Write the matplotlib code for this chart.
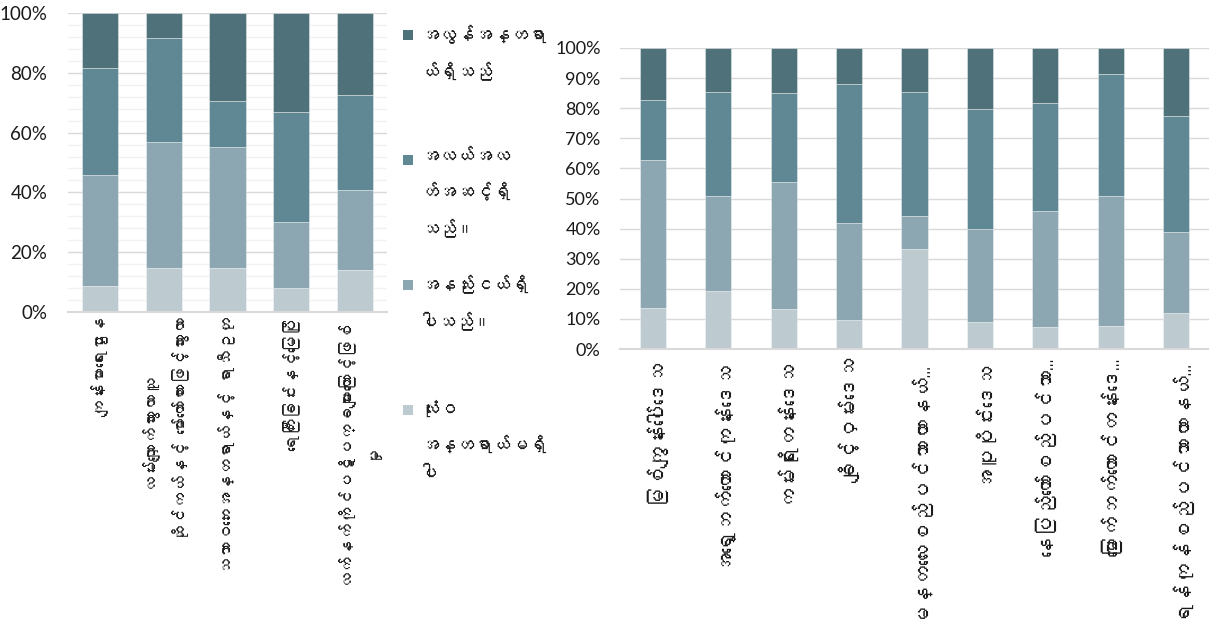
import numpy as np
import matplotlib
matplotlib.use("Agg")
import matplotlib.pyplot as plt
from matplotlib.patches import Rectangle
from matplotlib.ticker import MultipleLocator, FuncFormatter

# ---------------- data ----------------
series_names = ["လုံးဝ\nအန္တရာယ်မရှိ\nပါ",
                "အနည်းငယ်ရှိ\nပါသည်။",
                "အလယ်အလ\nတ်အဆင့်ရှိ\nသည်။",
                "အလွန်အန္တရာ\nယ်ရှိသည်"]

left_categories = ["ကျန်းမာရေးဌာန",
                   "လမ်းလျှောက်သွားလာသူ\nဆိုင်ကယ်နှင့် မော်တော်ကားဖြင့်သွားလာ",
                   "သဘာဝဘေးအန္တရာယ်နှင့် ရာသီဥတု",
                   "ရေကြီးခြင်းနှင့်မြေပြို",
                   "လက်နက်ကိုင်ပဋိပက္ခများကြောင့်ဖြစ်\nမှု"]
left_none = [8.6, 14.8, 14.6, 7.9, 14.2]
left_low = [37.1, 42.2, 40.7, 22.3, 26.7]
left_mid = [36.0, 34.5, 15.4, 36.7, 31.7]
left_high = [18.3, 8.5, 29.3, 33.1, 27.4]

right_categories = ["မြစ်ကျွန်းပေါ်ဒေသ",
                    "အရှေ့ဘက်တောင်ကုန်းဒေသ",
                    "ကမ်းရိုးတန်းဒေသ",
                    "ချိုင့်ဝှမ်းဒေသ",
                    "မန္တလေးစည်ပင်သာယာနယ်…",
                    "အပူပိုင်းဒေသ",
                    "နေပြည်တော်စည်ပင်သာ…",
                    "မြောက်ဘက်တောင်တန်းဒေ…",
                    "ရန်ကုန်စည်ပင်သာယာနယ်…"]
right_none = [13.7, 19.4, 13.4, 9.8, 33.1, 8.9, 7.4, 7.8, 12.0]
right_low = [49.0, 31.5, 42.1, 32.1, 11.2, 31.0, 38.5, 43.1, 26.8]
right_mid = [20.1, 34.6, 29.6, 46.2, 41.2, 39.9, 35.9, 40.6, 38.6]
right_high = [17.2, 14.5, 14.9, 11.9, 14.5, 20.2, 18.2, 8.5, 22.6]

left_yticks = [0, 20, 40, 60, 80, 100]
right_yticks = [0, 10, 20, 30, 40, 50, 60, 70, 80, 90, 100]

colors = ["#BDCAD0", "#8CA7B1", "#5F8794", "#4F717A"]


# ---------------- fonts ----------------
def find_myanmar_font():
    try:
        from matplotlib import font_manager as fm
        from matplotlib.ft2font import FT2Font
        for path in sorted(fm.findSystemFonts()):
            try:
                f = FT2Font(path)
                if 0x1000 in f.get_charmap():
                    fm.fontManager.addfont(path)
                    return fm.FontProperties(fname=path).get_name()
            except Exception:
                continue
    except Exception:
        pass
    return None


mm = find_myanmar_font()
MM = [mm, "DejaVu Sans"] if mm else ["DejaVu Sans"]
NUM = ["Liberation Sans Narrow", "Lato", "DejaVu Sans"]

W, H = 1209, 626
fig = plt.figure(figsize=(W / 100, H / 100), dpi=100)
fig.patch.set_facecolor("white")


def px_axes(x0, y0, x1, y1):
    return fig.add_axes([x0 / W, 1 - y1 / H, (x1 - x0) / W, (y1 - y0) / H])


def stacked(ax, cats, layers, width):
    x = np.arange(len(cats))
    bottom = np.zeros(len(cats))
    for vals, c in zip(layers, colors):
        vals = np.asarray(vals, dtype=float)
        ax.bar(x, vals, width, bottom=bottom, color=c,
               edgecolor=(1, 1, 1, 0.45), linewidth=0.6, zorder=3)
        bottom += vals
    ax.set_xlim(-0.5, len(cats) - 0.5)
    ax.set_ylim(0, 100)
    for s in ["top", "right", "left"]:
        ax.spines[s].set_visible(False)
    ax.spines["bottom"].set_color("#D9D9D9")
    ax.spines["bottom"].set_linewidth(1.5)
    ax.spines["bottom"].set_zorder(4)
    ax.set_xticks(x)
    ax.yaxis.set_major_formatter(FuncFormatter(lambda v, p: f"{v:.0f}%"))
    return x


# ---------------- left chart ----------------
ax1 = px_axes(68, 13, 387, 312)
stacked(ax1, left_categories, [left_none, left_low, left_mid, left_high], 0.57)
ax1.set_yticks(left_yticks)
ax1.yaxis.set_minor_locator(MultipleLocator(4))
ax1.grid(axis="y", which="major", color="#D9D9D9", linewidth=1.0, zorder=0)
ax1.grid(axis="y", which="minor", color="#F2F2F2", linewidth=1.0, zorder=0)
ax1.tick_params(axis="both", which="both", length=0)
ax1.tick_params(axis="y", pad=15)
ax1.tick_params(axis="x", pad=4)
for t in ax1.get_yticklabels():
    t.set_fontfamily(NUM)
    t.set_fontsize(13.5)
    t.set_color("#1a1a1a")
ax1.set_xticklabels(left_categories, rotation=90, va="top", ha="center",
                    multialignment="center", fontsize=12,
                    family=MM, linespacing=2.1, color="#1a1a1a")

# legend (manual, placed like the reference)
legend_rows = [(3, 35), (2, 160), (1, 285), (0, 410)]
for idx, yc in legend_rows:
    fig.add_artist(Rectangle((403 / W, 1 - (yc + 5) / H), 10 / W, 10 / H,
                             transform=fig.transFigure, facecolor=colors[idx],
                             edgecolor="none"))
    fig.text(420 / W, 1 - (yc - 10) / H, series_names[idx], va="top", ha="left",
             fontsize=13, family=MM, linespacing=2.1, color="#1a1a1a")

# ---------------- right chart ----------------
ax2 = px_axes(620, 48, 1209, 349)
stacked(ax2, right_categories, [right_none, right_low, right_mid, right_high], 0.4)
ax2.set_yticks(right_yticks)
ax2.grid(axis="y", which="major", color="#D9D9D9", linewidth=1.0, zorder=0)
ax2.tick_params(axis="both", which="both", length=0)
ax2.tick_params(axis="y", pad=14)
ax2.tick_params(axis="x", pad=6)
for t in ax2.get_yticklabels():
    t.set_fontfamily(NUM)
    t.set_fontsize(13)
    t.set_color("#1a1a1a")
ax2.set_xticklabels(right_categories, rotation=90, va="top", ha="center",
                    fontsize=15, family=MM, color="#1a1a1a")

fig.savefig("out.png", dpi=100, facecolor="white")
